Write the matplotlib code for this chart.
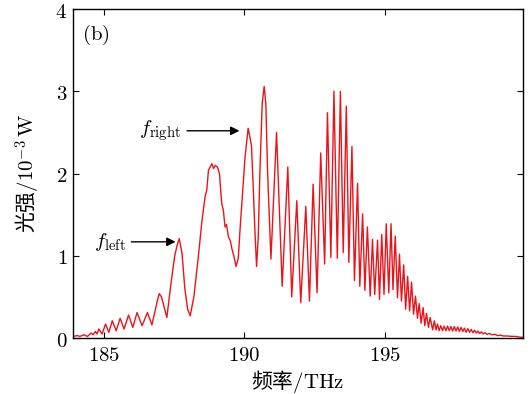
import matplotlib
matplotlib.use('Agg')
import matplotlib.pyplot as plt

plt.rcParams['mathtext.fontset'] = 'cm'
plt.rcParams['font.family'] = ['Noto Sans CJK SC', 'DejaVu Sans']

# spectrum (peaks and troughs), frequency in THz, power in 1e-3 W
freq = [183.92, 184.05, 184.15, 184.29, 184.42, 184.55, 184.62, 184.70, 184.76, 184.82,
        184.94, 185.06, 185.18, 185.30, 185.44, 185.58, 185.72, 185.88, 186.03, 186.18,
        186.36, 186.55, 186.71, 186.90, 186.97, 187.05, 187.24, 187.40, 187.52, 187.60,
        187.68, 187.74, 187.78, 187.88, 187.98, 188.07, 188.20, 188.36, 188.48, 188.60,
        188.66, 188.72, 188.78, 188.84, 188.90, 188.96, 189.04, 189.11, 189.19, 189.25,
        189.31, 189.36, 189.43, 189.50, 189.55, 189.62, 189.70, 189.78, 189.84, 189.96,
        190.02, 190.13, 190.19, 190.25, 190.31, 190.37, 190.43, 190.49, 190.55, 190.63,
        190.70, 190.76, 190.82, 190.94, 191.14, 191.34, 191.54, 191.68, 191.86, 192.00,
        192.18, 192.31, 192.44, 192.58, 192.71, 192.85, 192.95, 193.07, 193.18, 193.30,
        193.41, 193.51, 193.62, 193.71, 193.82, 193.91, 194.02, 194.10, 194.20, 194.28,
        194.37, 194.47, 194.55, 194.63, 194.73, 194.80, 194.88, 194.96, 195.04, 195.13,
        195.21, 195.28, 195.36, 195.44, 195.51, 195.58, 195.66, 195.73, 195.80, 195.87,
        195.94, 196.01, 196.08, 196.15, 196.21, 196.28, 196.35, 196.41, 196.47, 196.54,
        196.60, 196.69, 196.75, 196.81, 196.86, 196.92, 196.98, 197.04, 197.10, 197.16,
        197.22, 197.28, 197.34, 197.40, 197.46, 197.52, 197.58, 197.64, 197.70, 197.76,
        197.82, 197.88, 197.94, 198.00, 198.06, 198.12, 198.18, 198.24, 198.30, 198.36,
        198.42, 198.48, 198.55, 198.62, 198.70, 198.80, 198.90, 199.00, 199.10, 199.20,
        199.35, 199.50, 199.65, 199.80, 199.90]
power = [0.02, 0.03, 0.02, 0.04, 0.02, 0.06, 0.04, 0.08, 0.05, 0.11,
         0.05, 0.17, 0.07, 0.21, 0.09, 0.24, 0.11, 0.28, 0.13, 0.31,
         0.15, 0.31, 0.16, 0.45, 0.54, 0.50, 0.25, 0.70, 1.00, 1.12,
         1.21, 1.10, 1.03, 0.60, 0.35, 0.27, 0.50, 0.99, 1.40, 1.72,
         1.80, 2.04, 2.08, 2.12, 2.06, 2.10, 2.08, 2.00, 1.64, 1.55,
         1.35, 1.38, 1.23, 1.18, 1.09, 1.00, 0.87, 0.97, 1.31, 1.90,
         2.20, 2.55, 2.45, 2.33, 1.84, 1.31, 0.87, 1.23, 2.04, 2.85,
         3.06, 2.85, 2.04, 0.96, 2.50, 0.63, 2.08, 0.50, 1.67, 0.43,
         1.60, 0.45, 1.87, 0.55, 2.25, 0.90, 2.74, 0.98, 3.00, 0.97,
         3.00, 1.04, 2.82, 0.92, 2.33, 0.70, 1.88, 0.63, 1.51, 0.58,
         1.35, 0.51, 1.20, 0.53, 1.19, 0.47, 1.26, 0.53, 1.39, 0.55,
         1.39, 0.59, 1.24, 0.49, 1.02, 0.45, 0.89, 0.35, 0.75, 0.33,
         0.68, 0.29, 0.51, 0.24, 0.42, 0.18, 0.37, 0.15, 0.30, 0.13,
         0.25, 0.10, 0.21, 0.10, 0.17, 0.09, 0.15, 0.09, 0.145, 0.09,
         0.145, 0.09, 0.14, 0.085, 0.14, 0.085, 0.135, 0.08, 0.13, 0.08,
         0.12, 0.07, 0.115, 0.07, 0.105, 0.065, 0.095, 0.06, 0.085, 0.055,
         0.075, 0.05, 0.065, 0.045, 0.055, 0.04, 0.045, 0.03, 0.035, 0.025,
         0.025, 0.02, 0.02, 0.01, 0.01]

xticks = [185, 190, 195]
yticks = [0, 1, 2, 3, 4]

fig = plt.figure(figsize=(5.32, 3.94), dpi=100)
ax = fig.add_axes([0.137, 0.142, 0.846, 0.835])

ax.plot(freq, power, color='#e8141c', lw=1.0)

ax.set_xlim(183.9, 199.9)
ax.set_ylim(0, 4)
ax.set_xticks(xticks)
ax.set_yticks(yticks)
ax.set_xticklabels(['$%d$' % t for t in xticks], fontsize=15)
ax.set_yticklabels(['$%d$' % t for t in yticks], fontsize=15)
ax.tick_params(direction='in', length=4, width=0.8, top=True, right=True, pad=4)
for s in ax.spines.values():
    s.set_linewidth(1.0)

ax.set_xlabel('频率$/\\mathrm{THz}$', fontsize=15, labelpad=2)
ax.set_ylabel('光强$/10^{-3}\\,\\mathrm{W}$', fontsize=15, labelpad=10)

ax.text(184.73, 3.69, '$\\mathrm{(b)}$', fontsize=15, ha='center', va='center')

arw = dict(arrowstyle='-|>', color='k', lw=1.0, mutation_scale=13)
ax.annotate('$f_{\\mathrm{right}}$', xy=(189.92, 2.52), xytext=(187.76, 2.52),
            ha='right', va='center', fontsize=15, arrowprops=arw)
ax.annotate('$f_{\\mathrm{left}}$', xy=(187.65, 1.17), xytext=(185.78, 1.17),
            ha='right', va='center', fontsize=15, arrowprops=arw)

fig.savefig('out.png', dpi=100)
